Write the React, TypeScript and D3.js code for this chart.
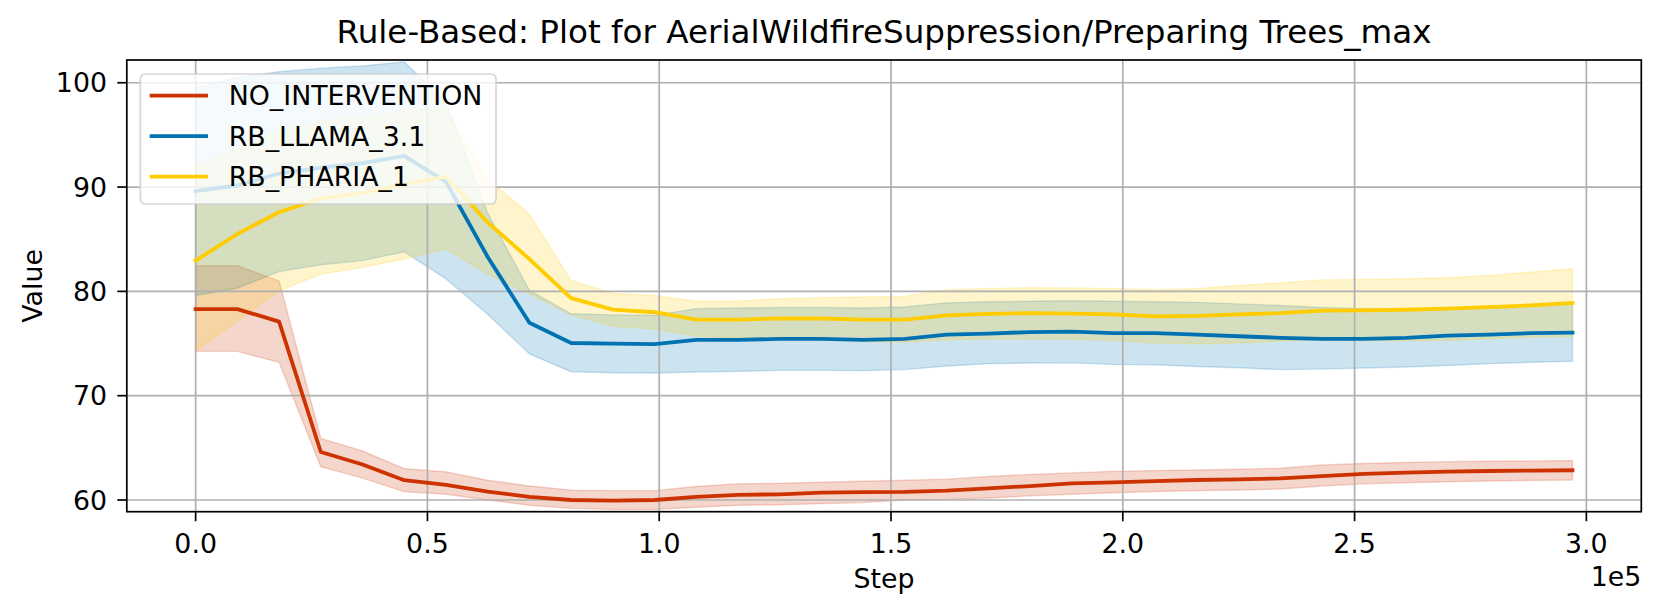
import React from "react";
import * as d3 from "d3";

const STEPS = [0, 9000, 18000, 27000, 36000, 45000, 54000, 63000, 72000, 81000, 90000, 99000, 108000, 117000, 126000, 135000, 144000, 153000, 162000, 171000, 180000, 189000, 198000, 207000, 216000, 225000, 234000, 243000, 252000, 261000, 270000, 279000, 288000, 297000];

const NO_MEAN = [78.3, 78.3, 77.1, 64.6, 63.4, 61.9, 61.45, 60.8, 60.3, 60.0, 59.95, 60.0, 60.3, 60.5, 60.55, 60.7, 60.75, 60.78, 60.9, 61.12, 61.34, 61.6, 61.7, 61.82, 61.92, 61.98, 62.08, 62.3, 62.5, 62.62, 62.72, 62.78, 62.82, 62.85];
const NO_HI = [82.45, 82.45, 81.0, 65.9, 64.7, 63.0, 62.7, 61.9, 61.35, 60.95, 60.9, 60.9, 61.3, 61.55, 61.6, 61.7, 61.8, 61.9, 62.0, 62.25, 62.45, 62.6, 62.75, 62.82, 62.88, 62.95, 63.05, 63.35, 63.5, 63.6, 63.68, 63.72, 63.75, 63.78];
const NO_LO = [74.25, 74.25, 73.2, 63.2, 62.1, 60.8, 60.55, 60.0, 59.5, 59.2, 59.1, 59.1, 59.3, 59.5, 59.55, 59.65, 59.75, 60.0, 60.05, 60.2, 60.4, 60.55, 60.7, 60.82, 60.9, 60.96, 61.05, 61.35, 61.55, 61.65, 61.75, 61.82, 61.88, 61.92];

const LLAMA_MEAN = [89.6, 90.15, 91.3, 91.85, 92.3, 93.0, 90.5, 83.3, 77.0, 75.05, 75.0, 74.95, 75.35, 75.35, 75.45, 75.45, 75.35, 75.45, 75.85, 75.95, 76.1, 76.15, 76.0, 76.0, 75.85, 75.7, 75.55, 75.45, 75.45, 75.55, 75.75, 75.85, 76.0, 76.05];
const LLAMA_HI = [99.55, 100.5, 101.05, 101.4, 101.6, 102.0, 98.2, 87.5, 80.1, 77.85, 77.75, 77.7, 78.35, 78.4, 78.45, 78.45, 78.4, 78.5, 78.9, 79.0, 79.05, 79.1, 79.05, 79.0, 78.95, 78.8, 78.65, 78.45, 78.35, 78.3, 78.35, 78.5, 78.65, 78.85];
const LLAMA_LO = [79.6, 80.3, 81.9, 82.55, 82.95, 83.8, 81.2, 77.8, 74.0, 72.3, 72.2, 72.17, 72.27, 72.33, 72.43, 72.43, 72.4, 72.5, 72.84, 73.07, 73.13, 73.15, 73.0, 72.97, 72.8, 72.68, 72.5, 72.55, 72.65, 72.75, 72.9, 73.07, 73.2, 73.3];

const PHARIA_MEAN = [82.95, 85.5, 87.6, 88.9, 89.45, 90.25, 91.0, 86.6, 83.1, 79.35, 78.25, 78.0, 77.3, 77.3, 77.4, 77.4, 77.3, 77.3, 77.7, 77.85, 77.92, 77.86, 77.8, 77.6, 77.65, 77.8, 77.92, 78.15, 78.18, 78.24, 78.34, 78.5, 78.66, 78.88];
const PHARIA_HI = [92.0, 93.6, 95.3, 96.3, 96.8, 97.3, 97.6, 90.8, 87.4, 81.05, 79.8, 79.6, 79.05, 79.07, 79.3, 79.4, 79.46, 79.52, 80.15, 80.26, 80.35, 80.32, 80.26, 80.16, 80.25, 80.58, 80.8, 81.1, 81.15, 81.21, 81.3, 81.53, 81.85, 82.17];
const PHARIA_LO = [74.3, 77.15, 80.05, 81.65, 82.3, 83.1, 84.05, 81.65, 79.75, 77.75, 76.65, 76.4, 75.7, 75.55, 75.45, 75.37, 75.2, 75.15, 75.37, 75.46, 75.46, 75.4, 75.3, 75.05, 74.98, 75.05, 75.24, 75.37, 75.28, 75.26, 75.3, 75.46, 75.62, 75.7];

const SERIES_NAMES = ["NO_INTERVENTION", "RB_LLAMA_3.1", "RB_PHARIA_1"];
const SERIES_COLORS = ["#cc3300", "#0072b2", "#ffcc00"];
const X_TICKS = [0, 50000, 100000, 150000, 200000, 250000, 300000];
const X_TICK_LABELS = ["0.0", "0.5", "1.0", "1.5", "2.0", "2.5", "3.0"];
const Y_TICKS = [60, 70, 80, 90, 100];
const Y_TICK_LABELS = ["60", "70", "80", "90", "100"];

const TITLE = "Rule-Based: Plot for AerialWildfireSuppression/Preparing Trees_max";

const W = 1661;
const H = 614;
const L = 126.8, R = 1641.3, T = 60, B = 511.7;
const FONT = "'DejaVu Sans', sans-serif";
const FS = 26.8;
const LW = 3.8;

export default function App() {
  const xMax = d3.max(STEPS) as number;
  const pad = xMax * 0.05;
  const x = d3.scaleLinear().domain([-pad, xMax + pad]).range([L, R]);
  const y = d3.scaleLinear().domain([58.88, 102.18]).range([B, T]);

  const series = [
    { mean: NO_MEAN, hi: NO_HI, lo: NO_LO },
    { mean: LLAMA_MEAN, hi: LLAMA_HI, lo: LLAMA_LO },
    { mean: PHARIA_MEAN, hi: PHARIA_HI, lo: PHARIA_LO },
  ];

  const line = (vals: number[]) =>
    d3.line<number>().x((_, i) => x(STEPS[i])).y((v) => y(v))(vals) as string;
  const area = (hi: number[], lo: number[]) =>
    d3
      .area<number>()
      .x((_, i) => x(STEPS[i]))
      .y0((_, i) => y(lo[i]))
      .y1((v) => y(v))(hi) as string;

  const legendRows = [95.7, 136.2, 176.7];

  return (
    <svg width={W} height={H} style={{ position: "absolute", left: 0, top: 0, background: "#fff" }} fontFamily={FONT}>
      <rect x={0} y={0} width={W} height={H} fill="#fff" />
      <defs>
        <clipPath id="plotclip">
          <rect x={L} y={T} width={R - L} height={B - T} />
        </clipPath>
      </defs>
      <g clipPath="url(#plotclip)">
        {series.map((s, k) => (
          <path
            key={"band" + k}
            d={area(s.hi, s.lo) + "Z"}
            fill={SERIES_COLORS[k]}
            fillOpacity={0.2}
            stroke={SERIES_COLORS[k]}
            strokeOpacity={0.2}
            strokeWidth={1.4}
          />
        ))}
        {X_TICKS.map((t) => (
          <line key={"gx" + t} x1={x(t)} x2={x(t)} y1={T} y2={B} stroke="#b0b0b0" strokeWidth={1.7} />
        ))}
        {Y_TICKS.map((t) => (
          <line key={"gy" + t} x1={L} x2={R} y1={y(t)} y2={y(t)} stroke="#b0b0b0" strokeWidth={1.7} />
        ))}
        {series.map((s, k) => (
          <path
            key={"line" + k}
            d={line(s.mean)}
            fill="none"
            stroke={SERIES_COLORS[k]}
            strokeWidth={LW}
            strokeLinejoin="round"
            strokeLinecap="square"
          />
        ))}
      </g>
      <rect x={L} y={T} width={R - L} height={B - T} fill="none" stroke="#000" strokeWidth={1.7} />
      {X_TICKS.map((t, i) => (
        <g key={"xt" + t}>
          <line x1={x(t)} x2={x(t)} y1={B} y2={B + 9.5} stroke="#000" strokeWidth={1.7} />
          <text x={x(t)} y={552.5} fontSize={FS} textAnchor="middle" fill="#000">
            {X_TICK_LABELS[i]}
          </text>
        </g>
      ))}
      {Y_TICKS.map((t, i) => (
        <g key={"yt" + t}>
          <line x1={L - 9.5} x2={L} y1={y(t)} y2={y(t)} stroke="#000" strokeWidth={1.7} />
          <text x={107} y={y(t) + 9.7} fontSize={FS} textAnchor="end" fill="#000">
            {Y_TICK_LABELS[i]}
          </text>
        </g>
      ))}
      <text x={R} y={586} fontSize={FS} textAnchor="end" fill="#000">
        1e5
      </text>
      <text x={(L + R) / 2} y={588} fontSize={FS} textAnchor="middle" fill="#000">
        Step
      </text>
      <text
        transform={`translate(41.5, ${(T + B) / 2}) rotate(-90)`}
        fontSize={FS}
        textAnchor="middle"
        fill="#000"
      >
        Value
      </text>
      <text x={(L + R) / 2} y={43.3} fontSize={32.6} textAnchor="middle" fill="#000">
        {TITLE}
      </text>
      <g>
        <rect x={140.3} y={74} width={355.7} height={130} rx={5} ry={5} fill="#fff" fillOpacity={0.8} stroke="#cccccc" strokeOpacity={0.8} strokeWidth={1.7} />
        {SERIES_NAMES.map((name, k) => (
          <g key={"lg" + k}>
            <line x1={149.7} x2={208} y1={legendRows[k]} y2={legendRows[k]} stroke={SERIES_COLORS[k]} strokeWidth={LW} />
            <text x={228.7} y={legendRows[k] + 9.7} fontSize={FS} fill="#000">
              {name}
            </text>
          </g>
        ))}
      </g>
    </svg>
  );
}
